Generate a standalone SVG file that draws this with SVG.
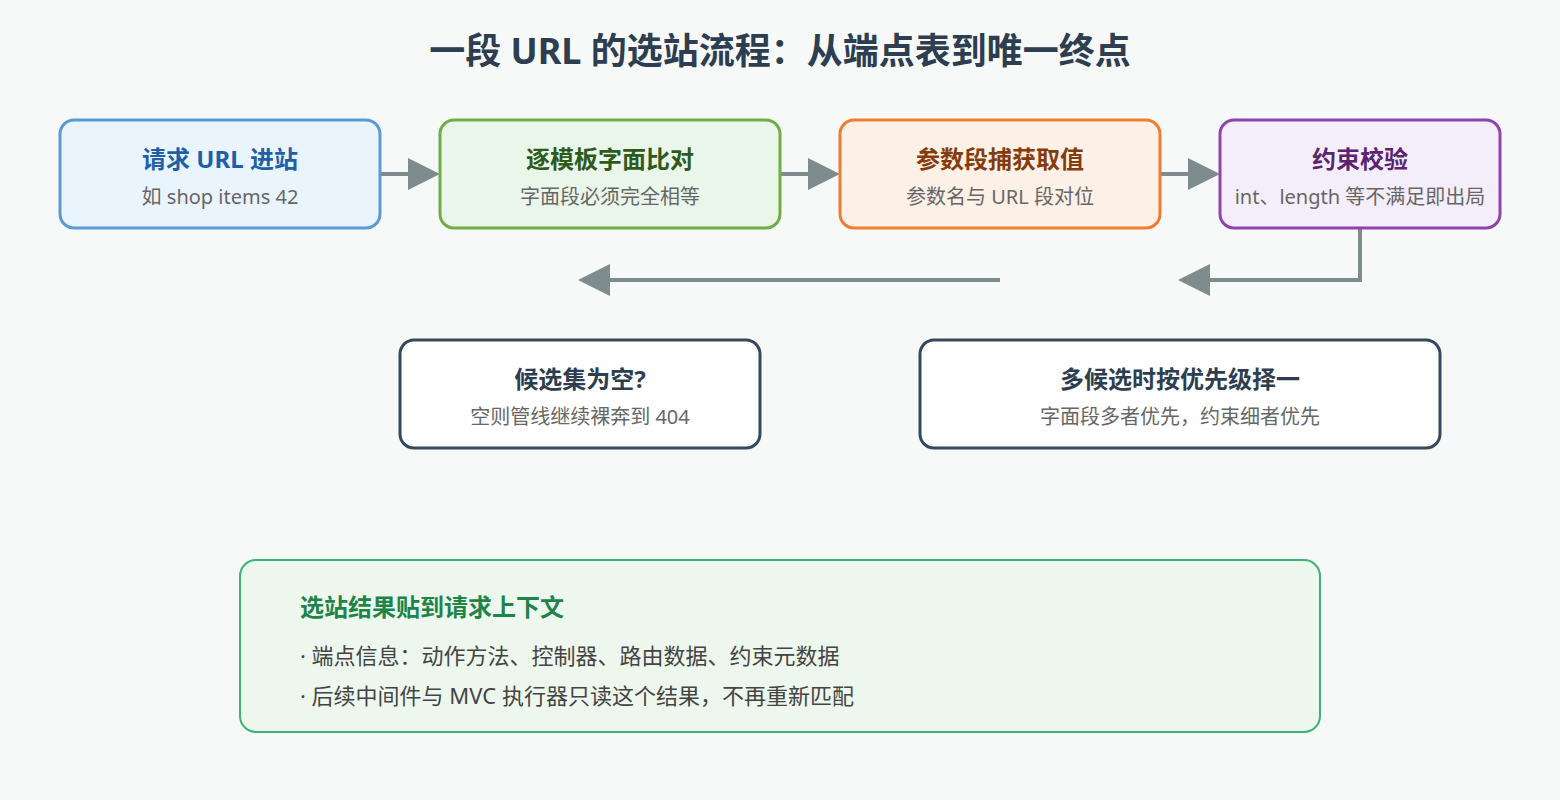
<svg xmlns="http://www.w3.org/2000/svg" width="1560" height="800" viewBox="0 0 1560 800">
<defs>
<style>
text{font-family:"Noto Sans","Noto Sans CJK SC",sans-serif}
.t{font-size:24px;font-weight:bold;text-anchor:middle}
.s{font-size:20px;fill:#666;text-anchor:middle}
.c{stroke:#7f8c8d;stroke-width:4;fill:none}
</style>
<marker id="a" markerWidth="8" markerHeight="8" refX="7" refY="4" orient="auto" markerUnits="userSpaceOnUse" viewBox="0 0 8 8"><path d="M0,0L8,4L0,8z" fill="#7f8c8d"/></marker>
<marker id="b" markerWidth="32" markerHeight="32" refX="30" refY="16" orient="auto" markerUnits="userSpaceOnUse"><path d="M0,0L32,16L0,32z" fill="#7f8c8d"/></marker>
</defs>
<rect width="1560" height="800" fill="#f7f9f9"/>
<text x="780" y="64" font-size="36" font-weight="bold" fill="#2c3e50" text-anchor="middle">一段 URL 的选站流程：从端点表到唯一终点</text>
<g id="connectors">
<path class="c" d="M380,174H410" /><path d="M408,158L440,174L408,190z" fill="#7f8c8d"/>
<path class="c" d="M780,174H810" /><path d="M808,158L840,174L808,190z" fill="#7f8c8d"/>
<path class="c" d="M1160,174H1190" /><path d="M1188,158L1220,174L1188,190z" fill="#7f8c8d"/>
<path class="c" d="M1360,228V280H1205" /><path d="M1210,264L1178,280L1210,296z" fill="#7f8c8d"/>
<path class="c" d="M1000,280H605" /><path d="M610,264L578,280L610,296z" fill="#7f8c8d"/>
</g>
<g id="n1"><rect x="60" y="120" width="320" height="108" rx="14" fill="#eaf4fd" stroke="#5b9bd5" stroke-width="3"/>
<text class="t" x="220" y="168" fill="#1f5fa8">请求 URL 进站</text><text class="s" x="220" y="204">如 shop items 42</text></g>
<g id="n2"><rect x="440" y="120" width="340" height="108" rx="14" fill="#eaf6ea" stroke="#70ad47" stroke-width="3"/>
<text class="t" x="610" y="168" fill="#2e5a1c">逐模板字面比对</text><text class="s" x="610" y="204">字面段必须完全相等</text></g>
<g id="n3"><rect x="840" y="120" width="320" height="108" rx="14" fill="#fdf0e7" stroke="#ed7d31" stroke-width="3"/>
<text class="t" x="1000" y="168" fill="#843c0c">参数段捕获取值</text><text class="s" x="1000" y="204">参数名与 URL 段对位</text></g>
<g id="n4"><rect x="1220" y="120" width="280" height="108" rx="14" fill="#f4eefb" stroke="#8e44ad" stroke-width="3"/>
<text class="t" x="1360" y="168" fill="#5b2370">约束校验</text><text class="s" x="1360" y="204">int、length 等不满足即出局</text></g>
<g id="n5"><rect x="400" y="340" width="360" height="108" rx="14" fill="#fff" stroke="#34495e" stroke-width="3"/>
<text class="t" x="580" y="388" fill="#2c3e50">候选集为空?</text><text class="s" x="580" y="424">空则管线继续裸奔到 404</text></g>
<g id="n6"><rect x="920" y="340" width="520" height="108" rx="14" fill="#fff" stroke="#34495e" stroke-width="3"/>
<text class="t" x="1180" y="388" fill="#2c3e50">多候选时按优先级择一</text><text class="s" x="1180" y="424">字面段多者优先，约束细者优先</text></g>
<g id="n7"><rect x="240" y="560" width="1080" height="172" rx="16" fill="#edf7ee" stroke="#3cb371" stroke-width="2"/>
<text x="300" y="616" font-size="24" font-weight="bold" fill="#1e8449">选站结果贴到请求上下文</text>
<text x="300" y="664" font-size="22" fill="#444">· 端点信息：动作方法、控制器、路由数据、约束元数据</text>
<text x="300" y="704" font-size="22" fill="#444">· 后续中间件与 MVC 执行器只读这个结果，不再重新匹配</text></g>
</svg>
